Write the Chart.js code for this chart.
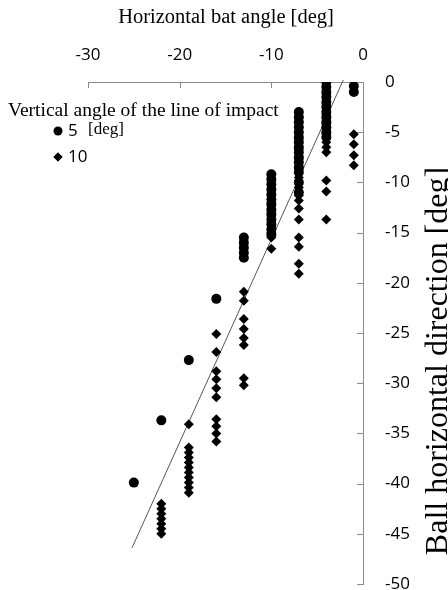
<!DOCTYPE html>
<html>
<head>
<meta charset="utf-8">
<script src="https://cdn.jsdelivr.net/npm/chart.js@4.4.1/dist/chart.umd.min.js"></script>
<style>
    html, body { margin: 0; padding: 0; background: #fff; }
    #wrap { width: 448px; height: 590px; }
</style>
</head>
<body>
<div id="wrap"><canvas id="chart" width="448" height="590"></canvas></div>
<script>
    // Ball horizontal direction [deg] per horizontal bat angle [deg]
    const impact5 = {
        '-1': [-0.4, -1.0],
        '-4': [0, -0.5, -1, -1.5, -2, -2.5, -3, -3.5, -4, -4.5, -5, -5.5],
        '-7': [-3, -3.5, -4, -4.5, -5, -5.5, -6, -6.5, -7, -7.5, -8, -8.5, -9, -10, -11],
        '-10': [-9.2, -9.7, -10.2, -10.7, -11.2, -11.7, -12.2, -12.7, -13.2, -13.7, -14.2, -14.7, -15.2],
        '-13': [-15.5, -16, -16.5, -17, -17.5],
        '-16': [-21.6],
        '-19': [-27.7],
        '-22': [-33.7],
        '-25': [-39.9]
    };
    const impact10 = {
        '-1': [-5.2, -6.2, -7.3, -8.3],
        '-4': [-1.2, -2.2, -3.2, -4.2, -5.2, -6, -6.5, -7, -9.8, -10.9, -13.7],
        '-7': [-5.7, -6.7, -7.7, -8.7, -9.5, -10.5, -11.3, -11.8, -12.6, -13.7, -15.5, -16.4, -18.1, -19.1],
        '-10': [-12, -13, -14, -15, -15.5, -16.6],
        '-13': [-20.9, -21.8, -23.6, -24.6, -25.5, -26.2, -29.5, -30.2],
        '-16': [-25.1, -26.9, -28.8, -29.6, -30.5, -31.4, -33.6, -34.3, -35.0, -35.8],
        '-19': [-34.1, -36.4, -36.9, -37.4, -37.9, -38.4, -38.9, -39.4, -39.9, -40.4, -40.9],
        '-22': [-42, -42.5, -43, -43.5, -44, -44.5, -45]
    };
    const trendX = [-25.2, -2.15];
    const trendY = [-46.4, 0.2];

    const xTitle = 'Horizontal bat angle [deg]';
    const yTitle = 'Ball horizontal direction [deg]';
    const legendTitle = 'Vertical angle of the line of impact';
    const legendLabels = ['5', '10'];

    const axisColor = '#8a8a8a';
    const serif = "'Liberation Serif', 'DejaVu Serif', serif";
    const sans = "'Open Sans', 'Noto Sans', sans-serif";

    function toPoints(table) {
        const pts = [];
        Object.keys(table).forEach(function(k) {
            table[k].forEach(function(v) { pts.push({ x: Number(k), y: v }); });
        });
        return pts;
    }

    // inward tick marks, titles and the in-plot legend
    const decorations = {
        id: 'decorations',
        afterDraw: function(chart) {
            const ctx = chart.ctx;
            const area = chart.chartArea;
            const xs = chart.scales.x;
            const ys = chart.scales.y;

            ctx.save();
            ctx.strokeStyle = axisColor;
            ctx.lineWidth = 1;
            ctx.beginPath();
            xs.ticks.forEach(function(t) {
                const px = Math.round(xs.getPixelForValue(t.value)) + 0.5;
                ctx.moveTo(px, area.top);
                ctx.lineTo(px, area.top + 6);
            });
            ys.ticks.forEach(function(t) {
                const py = Math.round(ys.getPixelForValue(t.value)) + 0.5;
                ctx.moveTo(area.right - 6, py);
                ctx.lineTo(area.right, py);
            });
            ctx.stroke();

            ctx.fillStyle = '#000';
            ctx.font = '20.5px ' + serif;
            ctx.textAlign = 'center';
            ctx.textBaseline = 'middle';
            ctx.fillText(xTitle, 226, 18);

            ctx.save();
            ctx.translate(447, 361);
            ctx.rotate(-Math.PI / 2);
            ctx.font = '32px ' + serif;
            ctx.textBaseline = 'alphabetic';
            ctx.fillText(yTitle, 0, 0);
            ctx.restore();

            // legend
            ctx.textAlign = 'left';
            ctx.textBaseline = 'alphabetic';
            ctx.font = '19.5px ' + serif;
            ctx.fillText(legendTitle, 8, 116);

            Chart.helpers.drawPoint(ctx, { pointStyle: 'circle', radius: 4.5, borderWidth: 0 }, 58, 131);
            Chart.helpers.drawPoint(ctx, { pointStyle: 'rectRot', radius: 4.5, borderWidth: 0 }, 58, 157);
            ctx.fill();
            ctx.textBaseline = 'middle';
            ctx.font = '17px ' + sans;
            ctx.fillText(legendLabels[0], 68, 131);
            ctx.fillText(legendLabels[1], 68, 157);
            ctx.font = '17px ' + serif;
            ctx.fillText('[deg]', 88, 130);
            ctx.restore();
        }
    };

    new Chart(document.getElementById('chart'), {
        type: 'scatter',
        data: {
            datasets: [{
                label: legendLabels[0],
                data: toPoints(impact5),
                pointStyle: 'circle',
                pointRadius: 5,
                backgroundColor: '#000',
                borderWidth: 0
            }, {
                label: legendLabels[1],
                data: toPoints(impact10),
                pointStyle: 'rectRot',
                pointRadius: 5,
                backgroundColor: '#000',
                borderWidth: 0
            }, {
                label: 'trend',
                data: trendX.map(function(x, i) { return { x: x, y: trendY[i] }; }),
                showLine: true,
                pointRadius: 0,
                borderColor: '#555',
                borderWidth: 1,
                clip: false
            }]
        },
        options: {
            responsive: false,
            animation: false,
            devicePixelRatio: 1,
            events: [],
            layout: { padding: { left: 88, right: 0, top: 0, bottom: 6 } },
            plugins: {
                legend: { display: false },
                tooltip: { enabled: false }
            },
            scales: {
                x: {
                    type: 'linear',
                    position: 'top',
                    min: -30,
                    max: 0,
                    ticks: { stepSize: 10, color: '#000', font: { family: sans, size: 17 }, padding: 9 },
                    grid: { display: false },
                    border: { display: true, color: axisColor, width: 1 },
                    afterFit: function(scale) {
                        scale.height = 82;
                        scale.paddingLeft = 0;
                        scale.paddingRight = 0;
                    }
                },
                y: {
                    type: 'linear',
                    position: 'right',
                    min: -50,
                    max: 0,
                    ticks: { stepSize: 5, color: '#000', font: { family: sans, size: 17 }, padding: 14 },
                    grid: { display: false },
                    border: { display: true, color: axisColor, width: 1 },
                    afterFit: function(scale) {
                        scale.width = 85;
                        scale.paddingTop = 0;
                        scale.paddingBottom = 0;
                    }
                }
            }
        },
        plugins: [decorations]
    });
</script>
</body>
</html>
